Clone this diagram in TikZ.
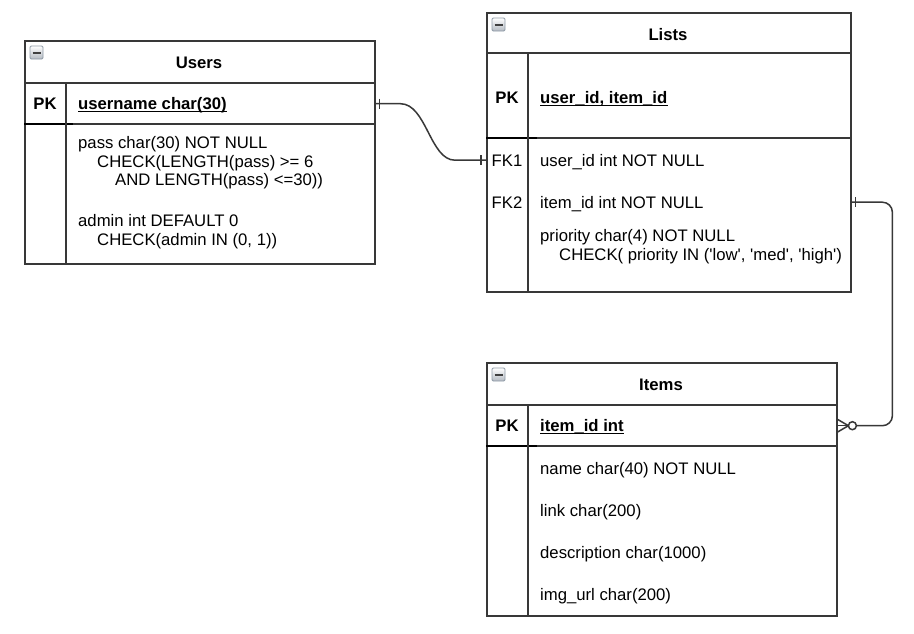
\documentclass[tikz,border=0pt]{standalone}
\usepackage{fontspec}
\setmainfont{Liberation Sans}
\usetikzlibrary{calc}
\definecolor{frameline}{HTML}{383838}
\definecolor{iconedge}{HTML}{8E9AA6}
\definecolor{iconfill}{HTML}{B4BAC2}
\newcommand\sq{\textquotesingle}
\begin{document}
\begin{tikzpicture}[x=1pt,y=-1pt,
  font=\fontsize{16.7pt}{19pt}\selectfont,
  tablebox/.style={draw=frameline, line width=1.7pt, fill=white, inner sep=0pt, anchor=north west},
  rowbox/.style={inner sep=0pt, anchor=north west},
  sep/.style={draw=frameline, line width=1.7pt},
  keysep/.style={draw=black, line width=2.4pt},
  txt/.style={inner sep=0pt, anchor=base west},
  title/.style={inner sep=0pt, anchor=base, font=\fontsize{16.7pt}{19pt}\selectfont\bfseries},
  keylabel/.style={inner sep=0pt, anchor=base, font=\fontsize{16.7pt}{19pt}\selectfont\bfseries},
  keyfield/.style={inner sep=0pt, anchor=base west, font=\fontsize{16.7pt}{19pt}\selectfont\bfseries},
  fklabel/.style={inner sep=0pt, anchor=base},
  rel/.style={draw=frameline, line width=1.5pt},
  minusicon/.pic={
    \draw[iconedge, line width=0.9pt, top color=white, bottom color=iconfill, rounded corners=1.2pt] (-6.5,-6.5) rectangle (6.5,6.5);
    \draw[black!75, line width=2pt] (-4,0) -- (4,0);
  }]
\useasboundingbox[fill=white] (0,0) rectangle (914,633);

% ---------- Users ----------
\node[tablebox, minimum width=350pt, minimum height=223pt] (users) at (24,40) {};
\node[rowbox, minimum width=350pt, minimum height=41pt] (usersPK) at (24,83) {};
\draw[sep] (24,83) -- (374,83);
\draw[sep] (24,124) -- (374,124);
\draw[keysep] (24,124) -- (73,124);
\draw[sep] (66,83) -- (66,263);
\pic at (36.5,52.5) {minusicon};
\node[title] (usersTitle) at (199,68) {Users};
\node[keylabel] (usersPKlabel) at (45,109.5) {PK};
\node[keyfield] (usersKey) at (78,109.5) {username char(30)};
\draw[black, line width=0.9pt] ($(usersKey.base west)+(0,2)$) -- ($(usersKey.base east)+(0,2)$);
\node[txt] (usersF1) at (78,148) {pass char(30) NOT NULL};
\node[txt] (usersF2) at (97,167) {CHECK(LENGTH(pass) >= 6};
\node[txt] (usersF3) at (115,185) {AND LENGTH(pass) <=30))};
\node[txt] (usersF4) at (78,226) {admin int DEFAULT 0};
\node[txt] (usersF5) at (97,245.5) {CHECK(admin IN (0, 1))};

% ---------- Lists ----------
\node[tablebox, minimum width=364pt, minimum height=279pt] (lists) at (486,12) {};
\node[rowbox, minimum width=364pt, minimum height=42pt] (listsFK1) at (486,139) {};
\node[rowbox, minimum width=364pt, minimum height=42pt] (listsFK2) at (486,181) {};
\draw[sep] (486,53) -- (850,53);
\draw[sep] (486,138) -- (850,138);
\draw[keysep] (486,138) -- (537,138);
\draw[sep] (528,53) -- (528,291);
\pic at (498.5,24.5) {minusicon};
\node[title] (listsTitle) at (668,40) {Lists};
\node[keylabel] (listsPKlabel) at (507,103) {PK};
\node[keyfield] (listsKey) at (540,103) {user\_id, item\_id};
\draw[black, line width=0.9pt] ($(listsKey.base west)+(0,2)$) -- ($(listsKey.base east)+(0,2)$);
\node[fklabel] (listsFK1label) at (507,166.5) {FK1};
\node[txt] (listsF1) at (540,166.5) {user\_id int NOT NULL};
\node[fklabel] (listsFK2label) at (507,208.5) {FK2};
\node[txt] (listsF2) at (540,208.5) {item\_id int NOT NULL};
\node[txt] (listsF3) at (540,241.5) {priority char(4) NOT NULL};
\node[txt] (listsF4) at (559,260.5) {CHECK( priority IN (\sq low\sq, \sq med\sq, \sq high\sq)};

% ---------- Items ----------
\node[tablebox, minimum width=350pt, minimum height=253pt] (items) at (486,362) {};
\node[rowbox, minimum width=350pt, minimum height=41pt] (itemsPK) at (486,405) {};
\draw[sep] (486,405) -- (836,405);
\draw[sep] (486,446) -- (836,446);
\draw[keysep] (486,446) -- (537,446);
\draw[sep] (528,405) -- (528,615);
\pic at (498.5,374.5) {minusicon};
\node[title] (itemsTitle) at (661,390) {Items};
\node[keylabel] (itemsPKlabel) at (507,431) {PK};
\node[keyfield] (itemsKey) at (540,431) {item\_id int};
\draw[black, line width=0.9pt] ($(itemsKey.base west)+(0,2)$) -- ($(itemsKey.base east)+(0,2)$);
\node[txt] (itemsF1) at (540,474) {name char(40) NOT NULL};
\node[txt] (itemsF2) at (540,516) {link char(200)};
\node[txt] (itemsF3) at (540,558.5) {description char(1000)};
\node[txt] (itemsF4) at (540,600) {img\_url char(200)};

% ---------- Users (1) -- Lists (1) ----------
\draw[rel] (usersPK.east) -- ++(26,0)
  .. controls +(26,0) and ($(listsFK1.west)+(-56,0)$) .. ($(listsFK1.west)+(-31,0)$)
  -- (listsFK1.west);
\draw[rel] ($(usersPK.east)+(5,-5)$) -- +(0,10);
\draw[rel] ($(listsFK1.west)+(-5,-5)$) -- +(0,10);

% ---------- Lists (1) -- Items (0..n) ----------
\coordinate (bend) at ($(itemsPK.east)+(56,0)$);
\draw[rel, rounded corners=10pt] (listsFK2.east) -| (bend) -- ($(itemsPK.east)+(20,0)$);
\draw[rel] ($(listsFK2.east)+(5,-5)$) -- +(0,10);
\draw[rel] (itemsPK.east) -- ($(itemsPK.east)+(12,0)$);
\draw[rel] ($(itemsPK.east)+(0,-7)$) -- ($(itemsPK.east)+(12,0)$) -- ($(itemsPK.east)+(0,7)$);
\draw[rel, fill=white] ($(itemsPK.east)+(16,0)$) circle (4pt);
\end{tikzpicture}
\end{document}
